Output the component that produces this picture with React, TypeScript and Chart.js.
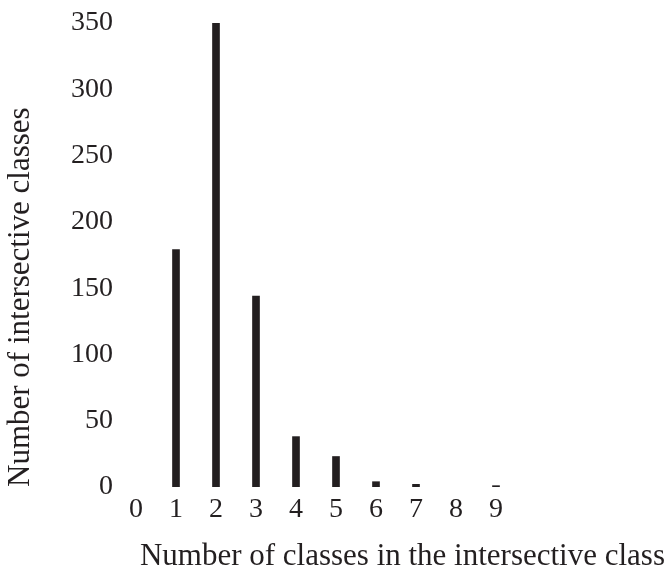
import React, { useEffect, useRef } from "react";
import { Chart, registerables } from "chart.js";

Chart.register(...registerables);

const categories = [0, 1, 2, 3, 4, 5, 6, 7, 8, 9];
const counts = [0, 179, 350, 144, 38, 23, 4, 2, 0, 1];
const yTicks = [0, 50, 100, 150, 200, 250, 300, 350];
const xTitle = "Number of classes in the intersective class";
const yTitle = "Number of intersective classes";

export default function App() {
  const ref = useRef<HTMLCanvasElement>(null);
  useEffect(() => {
    const family = "'Liberation Serif', 'Times New Roman', serif";
    const font = { family, size: 28, weight: "normal" as const };
    const xTitleFont = { family, size: 31, weight: "normal" as const, lineHeight: 0.9 };
    const yTitleFont = { family, size: 31, weight: "normal" as const, lineHeight: 1.2 };
    const color = "#231f20";
    const chart = new Chart(ref.current!, {
      type: "bar",
      data: {
        datasets: [
          {
            // zero counts draw no bar (as in the reference)
            data: categories.map((c, i) => ({ x: c, y: counts[i] === 0 ? null : counts[i] })),
            backgroundColor: color,
            borderWidth: 0,
            barThickness: 7,
          },
        ],
      },
      options: {
        responsive: false,
        animation: false,
        layout: { padding: { left: 0, right: 5, top: 23, bottom: 0 } },
        plugins: { legend: { display: false }, tooltip: { enabled: false } },
        scales: {
          x: {
            type: "linear",
            offset: false,
            min: -0.5,
            max: 13.225,
            grid: { display: false, drawTicks: false },
            border: { display: false },
            afterBuildTicks: (s: any) => {
              s.ticks = categories.map((v) => ({ value: v }));
            },
            ticks: {
              font,
              color,
              padding: 6,
              maxRotation: 0,
              autoSkip: false,
              callback: (v: any) => String(v),
            },
            title: {
              display: true,
              text: xTitle,
              font: xTitleFont,
              color,
              align: "end",
              padding: { top: 0, bottom: 0 },
            },
            afterFit: (s: any) => {
              s.height = 84;
            },
          },
          y: {
            type: "linear",
            min: 0,
            max: 350,
            grid: { display: false, drawTicks: false },
            border: { display: false },
            afterBuildTicks: (s: any) => {
              s.ticks = yTicks.map((v) => ({ value: v }));
            },
            ticks: { font, color, padding: 3, autoSkip: false },
            title: {
              display: true,
              text: yTitle,
              font: yTitleFont,
              color,
              align: "start",
              padding: { top: 2, bottom: 0 },
            },
            afterFit: (s: any) => {
              s.width = 116;
            },
          },
        },
      },
    });
    return () => chart.destroy();
  }, []);
  return (
    <div style={{ position: "fixed", left: 0, top: 0, width: 670, height: 571, background: "#fff" }}>
      <canvas ref={ref} width={670} height={571} style={{ display: "block" }} />
    </div>
  );
}
